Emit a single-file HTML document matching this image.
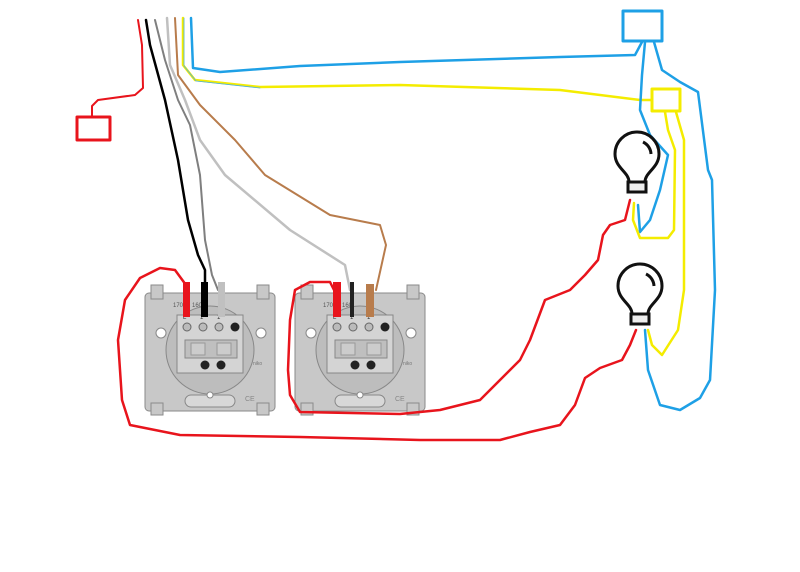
<!DOCTYPE html>
<html><head><meta charset="utf-8"><style>
html,body{margin:0;padding:0;background:#fff;}
svg{display:block;}
</style></head><body>
<svg width="800" height="572" viewBox="0 0 800 572" xmlns="http://www.w3.org/2000/svg">
<rect width="800" height="572" fill="#fff"/>
<defs>
<g id="sw">
  <rect x="0" y="8" width="130" height="118" rx="4" fill="#c8c8c8" stroke="#8a8a8a" stroke-width="1"/>
  <rect x="6" y="0" width="12" height="14" fill="#c8c8c8" stroke="#8a8a8a"/>
  <rect x="112" y="0" width="12" height="14" fill="#c8c8c8" stroke="#8a8a8a"/>
  <rect x="6" y="118" width="12" height="12" fill="#c8c8c8" stroke="#8a8a8a"/>
  <rect x="112" y="118" width="12" height="12" fill="#c8c8c8" stroke="#8a8a8a"/>
  <circle cx="65" cy="65" r="44" fill="#bdbdbd" stroke="#888"/>
  <rect x="32" y="30" width="66" height="58" fill="#d4d4d4" stroke="#888"/>
  <circle cx="42" cy="42" r="4" fill="#bbb" stroke="#666"/>
  <circle cx="58" cy="42" r="4" fill="#bbb" stroke="#666"/>
  <circle cx="74" cy="42" r="4" fill="#bbb" stroke="#666"/>
  <circle cx="90" cy="42" r="4.5" fill="#222"/>
  <rect x="40" y="55" width="52" height="18" fill="#bfbfbf" stroke="#888"/>
  <rect x="46" y="58" width="14" height="12" fill="#ccc" stroke="#999"/>
  <rect x="72" y="58" width="14" height="12" fill="#ccc" stroke="#999"/>
  <circle cx="60" cy="80" r="4.5" fill="#222"/>
  <circle cx="76" cy="80" r="4.5" fill="#222"/>
  <circle cx="16" cy="48" r="5" fill="#fff" stroke="#888"/>
  <circle cx="116" cy="48" r="5" fill="#fff" stroke="#888"/>
  <rect x="40" y="110" width="50" height="12" rx="6" fill="#d8d8d8" stroke="#888"/>
  <circle cx="65" cy="110" r="3" fill="#fff" stroke="#888"/>
  <text x="28" y="22" font-family="Liberation Sans, sans-serif" font-size="6" fill="#555">170</text>
  <text x="47" y="22" font-family="Liberation Sans, sans-serif" font-size="6" fill="#555">160</text>
  <text x="38" y="34" font-family="Liberation Sans, sans-serif" font-size="6" fill="#333">L</text>
  <text x="55" y="34" font-family="Liberation Sans, sans-serif" font-size="6" fill="#333">1</text>
  <text x="72" y="34" font-family="Liberation Sans, sans-serif" font-size="6" fill="#333">1</text>
  <text x="108" y="80" font-family="Liberation Sans, sans-serif" font-size="5" fill="#777">niko</text>
  <text x="100" y="116" font-family="Liberation Sans, sans-serif" font-size="7" fill="#888">CE</text>
</g>
<g id="bulb">
  <path d="M-8 22 C-8 12 -22 8 -22 -6 A22 22 0 1 1 22 -6 C22 8 8 12 8 22 Z" fill="#fff" stroke="#111" stroke-width="3"/>
  <rect x="-9" y="22" width="18" height="10" fill="#eee" stroke="#111" stroke-width="3"/>
  <path d="M6 -18 A14 14 0 0 1 14 -6" fill="none" stroke="#111" stroke-width="3"/>
</g>
</defs>
<use href="#sw" x="145" y="285"/>
<use href="#sw" x="295" y="285"/>
<g fill="none" stroke-linecap="round" stroke-linejoin="round">
<!-- top left red -->
<path d="M138 20 L142 45 L143 88 L135 95 L98 100 L92 106 L92 117" stroke="#e8141c" stroke-width="2"/>
<rect x="77" y="117" width="33" height="23" stroke="#e8141c" stroke-width="3"/>
<!-- black -->
<path d="M146 20 L150 45 L165 100 L178 160 L188 220 L198 255 L205 270 L205 290" stroke="#000" stroke-width="2.5"/>
<!-- dark gray -->
<path d="M155 20 L165 60 L178 100 L190 125 L200 175 L205 240 L212 275 L218 290" stroke="#7f7f7f" stroke-width="2"/>
<!-- light gray -->
<path d="M167 18 L170 65 L185 100 L200 140 L225 175 L290 230 L345 265 L350 290" stroke="#c0c0c0" stroke-width="2.5"/>
<!-- brown -->
<path d="M175 18 L178 75 L200 105 L235 140 L265 175 L330 215 L380 225 L386 245 L376 290" stroke="#b87c4c" stroke-width="2"/>
<!-- yellow -->
<path d="M183 18 L183 65 L195 80 L260 87 L400 85 L560 90 L640 100 L651 100" stroke="#f4ec00" stroke-width="2.5"/>
<path d="M184 18 L184 66 L196 81 L260 88" stroke="#4ab0e0" stroke-width="0.8"/>
<!-- blue top -->
<path d="M191 18 L193 68 L220 72 L300 66 L400 62 L560 57 L635 55 L642 42" stroke="#1ea0e6" stroke-width="2.5"/>
<rect x="623" y="11" width="39" height="30" stroke="#1ea0e6" stroke-width="3"/>
<rect x="652" y="89" width="28" height="22" stroke="#f4ec00" stroke-width="3"/>
<!-- blue loops -->
<path d="M645 42 L642 75 L640 110 L650 135 L668 155 L660 190 L650 220 L640 232 L638 205" stroke="#1ea0e6" stroke-width="2.5"/>
<path d="M654 42 L662 70 L680 82 L698 92 L708 170 L712 180 L715 290 L710 380 L700 398 L680 410 L660 405 L648 370 L645 330" stroke="#1ea0e6" stroke-width="2.5"/>
<!-- yellow from yellow box -->
<path d="M665 112 L668 130 L675 150 L674 230 L668 238 L640 238 L633 220 L634 203" stroke="#f4ec00" stroke-width="2.5"/>
<path d="M676 112 L684 140 L684 290 L678 330 L662 355 L652 345 L648 330" stroke="#f4ec00" stroke-width="2.5"/>
<!-- red from bulbs -->
<path d="M630 200 L625 220 L610 225 L603 235 L598 260 L585 275 L570 290 L545 300 L530 340 L520 360 L505 375 L480 400 L440 410 L400 414 L300 412 L290 395 L288 370 L290 320 L295 290 L310 282 L330 282 L335 292" stroke="#e8141c" stroke-width="2.5"/>
<path d="M636 330 L630 345 L622 360 L600 368 L585 378 L575 405 L560 425 L530 432 L500 440 L420 440 L300 437 L180 435 L130 425 L122 400 L118 340 L125 300 L140 278 L160 268 L175 270 L186 285" stroke="#e8141c" stroke-width="2.5"/>
</g>
<!-- terminal wire ends -->
<rect x="183" y="282" width="7" height="35" fill="#e8141c"/>
<rect x="201" y="282" width="7" height="35" fill="#000"/>
<rect x="218" y="282" width="7" height="35" fill="#c0c0c0"/>
<rect x="333" y="282" width="8" height="35" fill="#e8141c"/>
<rect x="350" y="282" width="4" height="35" fill="#222"/>
<rect x="366" y="284" width="8" height="33" fill="#b87c4c"/>
<use href="#bulb" x="637" y="160"/>
<use href="#bulb" x="640" y="292"/>
</svg>
</body></html>
